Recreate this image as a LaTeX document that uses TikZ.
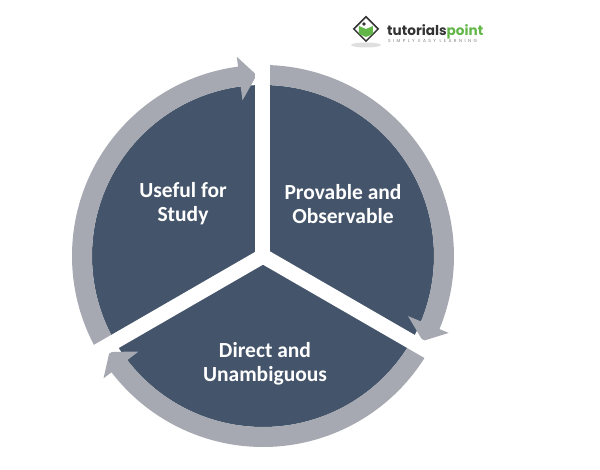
\documentclass[tikz,border=0pt]{standalone}
\usepackage{fontspec}
\setmainfont{Carlito}
\newfontfamily\logofont{Poppins}
\newfontfamily\tagfont[LetterSpace=55]{Poppins}
\usetikzlibrary{shapes}
\definecolor{slate}{RGB}{68,84,106}
\definecolor{ringgray}{RGB}{166,169,177}
\definecolor{tpgreen}{RGB}{98,182,72}
\definecolor{tpdark}{RGB}{51,51,51}
\tikzstyle{sector} = [fill=slate]
\tikzstyle{ring} = [fill=ringgray]
\tikzstyle{cut} = [draw=white, line width=15pt, line cap=round]
\tikzstyle{stext} = [text=white, font=\bfseries\fontsize{21.5}{24}\selectfont, align=center]

\begin{document}
\begin{tikzpicture}[x=1pt, y=1pt]
    \useasboundingbox (-263,-213) rectangle (337,256);
    \coordinate (c) at (0,0);
    \fill[sector] (c) circle (171);

    % gray arrows, clockwise
    \foreach \a in {90, -30, 210}{
        \pgfmathsetmacro{\b}{\a-120+7.5}
        \pgfmathsetmacro{\t}{\a-120+2}
        \fill[ring] (\a:191) arc[start angle=\a, end angle=\b, radius=191]
            -- (\b:201) -- (\t:181) -- (\b:157) -- (\b:171)
            arc[start angle=\b, end angle=\a, radius=171] -- cycle;
    }

    % white gaps
    \foreach \a in {90, -30, 210}
        \draw[cut] (c) -- (\a:215);

    \node[stext] (study) at (-80,52) {Useful for\\Study};
    \node[stext] (prove) at (80,52) {Provable and\\Observable};
    \node[stext] (direct) at (2,-108) {Direct and\\Unambiguous};

    % logo
    \fill[gray!25] (103,211) ellipse (15 and 2.5);
    \node[diamond, draw=tpdark, line width=1.5pt, minimum size=25, inner sep=0] (icon) at (103,227) {};
    \fill[tpgreen] (96,222) -- (103,219) -- (110,222) -- (110,230) -- (103,227) -- (96,230) -- cycle;
    \fill[tpdark] (101,232) circle (1.8);
    \node[anchor=base west, inner sep=0, font=\logofont\bfseries\fontsize{13.6}{14}\selectfont] (brand) at (124,220.5)
        {\textcolor{tpdark}{tutorials}\textcolor{tpgreen}{point}};
    \node[anchor=base west, inner sep=0, text=gray, font=\tagfont\fontsize{4.4}{5}\selectfont] (tagline) at (125,213)
        {SIMPLY EASY LEARNING};
\end{tikzpicture}
\end{document}
